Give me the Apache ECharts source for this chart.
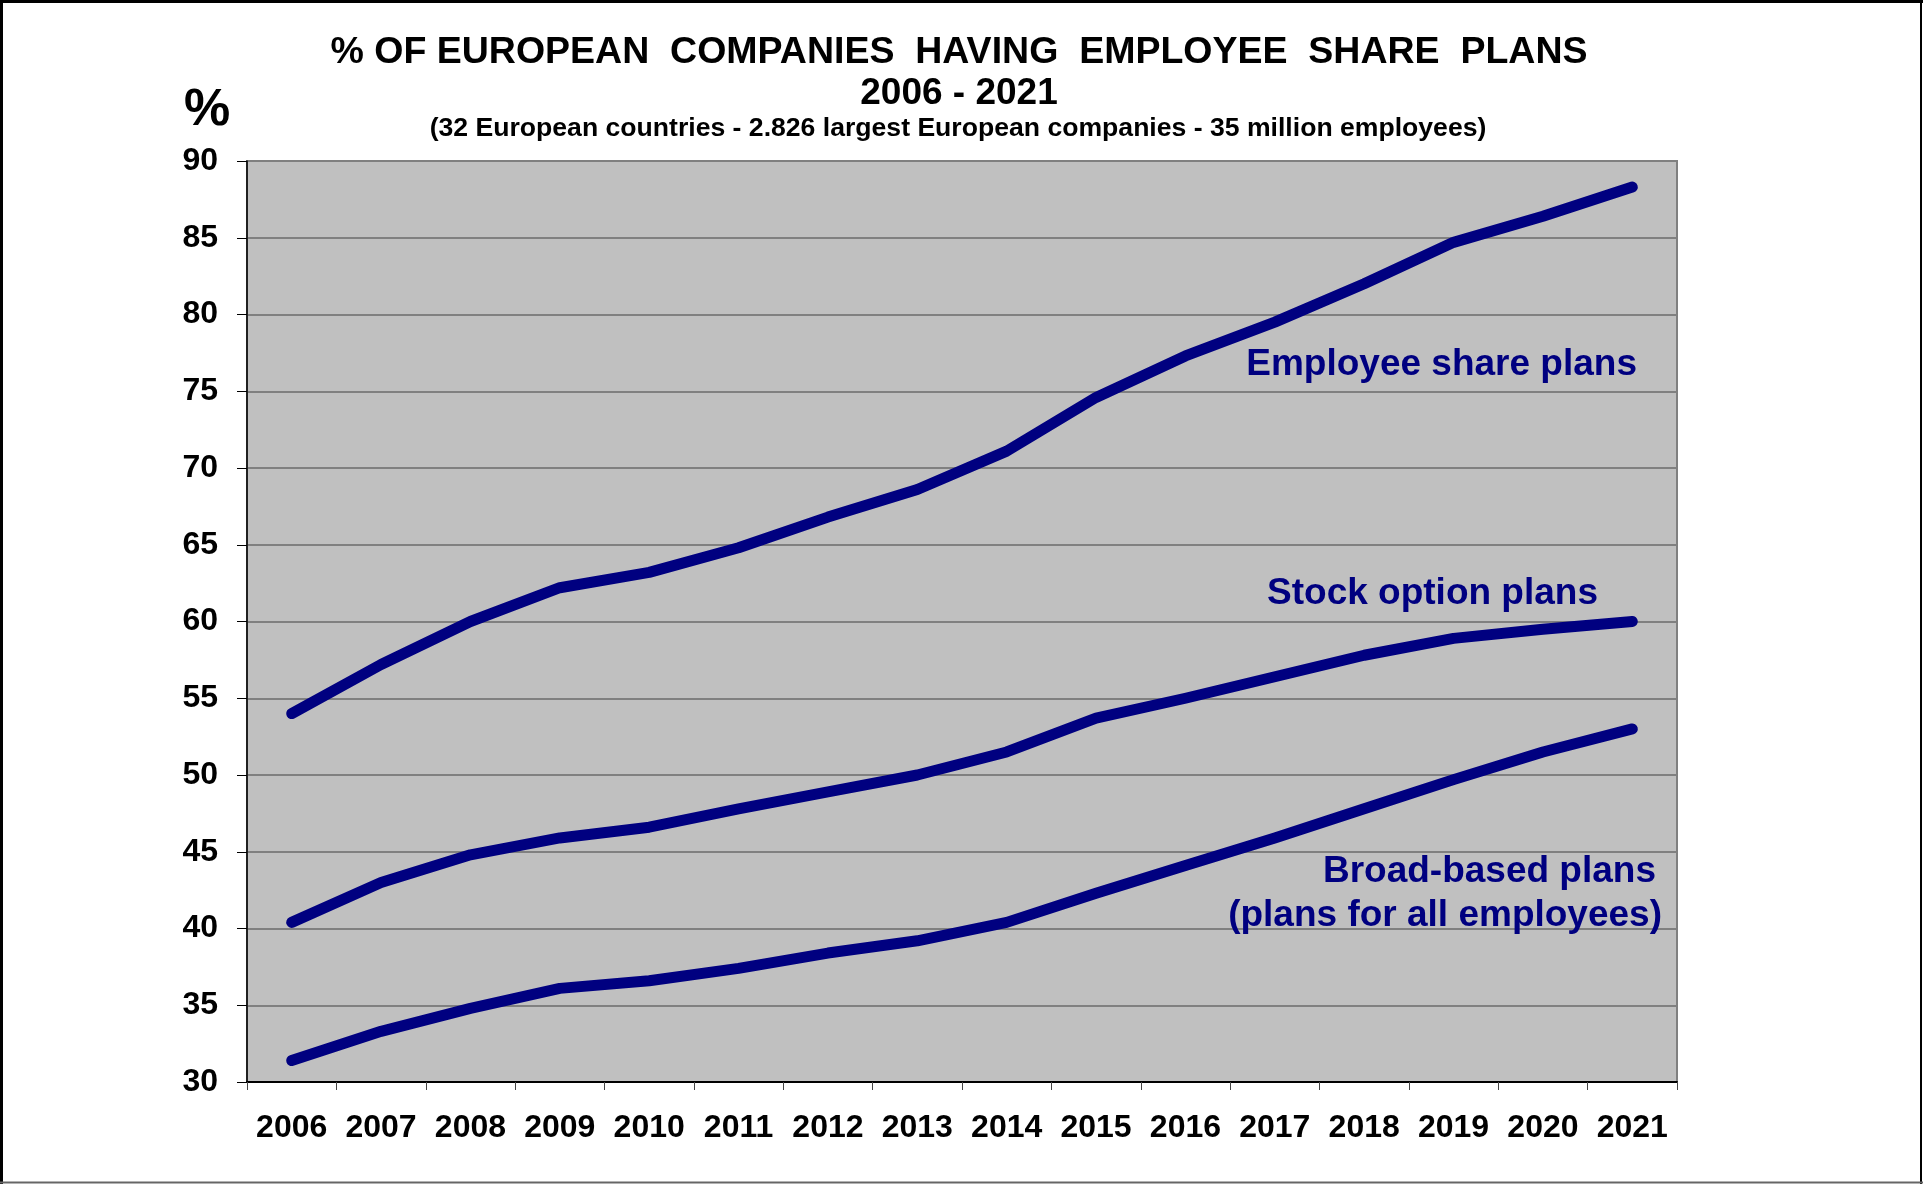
<!DOCTYPE html>
<html>
<head>
<meta charset="utf-8" />
<title>Employee share plans 2006 - 2021</title>
<script src="https://cdn.jsdelivr.net/npm/echarts@6/dist/echarts.min.js"></script>
<style>
html, body { margin: 0; padding: 0; background: #fff; }
#chart { width: 1923px; height: 1184px; }
</style>
</head>
<body>
<div id="chart"></div>
<script>
// years on the x axis
var years = ['2006','2007','2008','2009','2010','2011','2012','2013','2014','2015','2016','2017','2018','2019','2020','2021'];

// values (%)
var employeeShare = [54.0, 57.2, 60.0, 62.2, 63.2, 64.8, 66.8, 68.6, 71.1, 74.6, 77.3, 79.5, 82.0, 84.7, 86.4, 88.3];
var stockOption   = [40.4, 43.0, 44.8, 45.9, 46.6, 47.8, 48.9, 50.0, 51.5, 53.7, 55.0, 56.4, 57.8, 58.9, 59.5, 60.0];
var broadBased    = [31.4, 33.3, 34.8, 36.1, 36.6, 37.4, 38.4, 39.2, 40.4, 42.3, 44.1, 45.9, 47.8, 49.7, 51.5, 53.0];

var FONT = '"Liberation Sans", Arial, sans-serif';
var NAVY = '#000080';

function mkLine(name, data) {
    return {
        name: name,
        type: 'line',
        data: data,
        symbol: 'none',
        smooth: false,
        lineStyle: { color: NAVY, width: 11, cap: 'round', join: 'round' },
        z: 5
    };
}

function txt(str, x, y, size, color, align) {
    return {
        type: 'text',
        x: x, y: y,
        z: 20,
        style: {
            text: str,
            fill: color,
            font: 'bold ' + size + 'px ' + FONT,
            textAlign: align || 'center',
            textVerticalAlign: 'middle'
        }
    };
}

var option = {
    backgroundColor: '#ffffff',
    animation: false,
    grid: {
        left: 247, top: 161, right: 246, bottom: 102,
        show: true,
        backgroundColor: '#C0C0C0',
        borderColor: '#808080',
        borderWidth: 2
    },
    xAxis: {
        type: 'category',
        data: years,
        boundaryGap: true,
        axisLine: { show: true, lineStyle: { color: '#000', width: 2 } },
        axisTick: { show: true, length: 8, interval: 0, lineStyle: { color: '#444', width: 1 } },
        axisLabel: { interval: 0, margin: 30, color: '#000', fontSize: 32, fontWeight: 'bold', fontFamily: FONT },
        splitLine: { show: false }
    },
    yAxis: {
        type: 'value',
        min: 30, max: 90, interval: 5,
        axisLine: { show: true, lineStyle: { color: '#000', width: 1.5 } },
        axisTick: { show: true, length: 10, lineStyle: { color: '#000', width: 1 } },
        axisLabel: { margin: 29, color: '#000', fontSize: 32, fontWeight: 'bold', fontFamily: FONT },
        splitLine: { show: true, lineStyle: { color: '#808080', width: 2 } }
    },
    series: [
        mkLine('Employee share plans', employeeShare),
        mkLine('Stock option plans', stockOption),
        mkLine('Broad-based plans', broadBased)
    ],
    graphic: [
        // frame round the picture
        { type: 'line', shape: { x1: 0, y1: 1.5, x2: 1923, y2: 1.5 }, style: { stroke: '#000', lineWidth: 3 } },
        { type: 'line', shape: { x1: 1.5, y1: 0, x2: 1.5, y2: 1184 }, style: { stroke: '#000', lineWidth: 3 } },
        { type: 'line', shape: { x1: 1921, y1: 0, x2: 1921, y2: 1184 }, style: { stroke: '#000', lineWidth: 2 } },
        { type: 'line', shape: { x1: 0, y1: 1182.5, x2: 1923, y2: 1182.5 }, style: { stroke: '#666', lineWidth: 2 } },
        // titles
        txt('% OF EUROPEAN  COMPANIES  HAVING  EMPLOYEE  SHARE  PLANS', 959, 53, 37.5, '#000'),
        txt('2006 - 2021', 959, 94, 37, '#000'),
        txt('(32 European countries - 2.826 largest European companies - 35 million employees)', 958, 129, 26.6, '#000'),
        txt('%', 207, 111, 52, '#000'),
        // series labels
        txt('Employee share plans', 1637, 365, 37, NAVY, 'right'),
        txt('Stock option plans', 1598, 594, 37, NAVY, 'right'),
        txt('Broad-based plans', 1656, 872, 37, NAVY, 'right'),
        txt('(plans for all employees)', 1662, 916, 37, NAVY, 'right')
    ]
};

var myChart = echarts.init(document.getElementById('chart'));
myChart.setOption(option);
</script>
</body>
</html>
